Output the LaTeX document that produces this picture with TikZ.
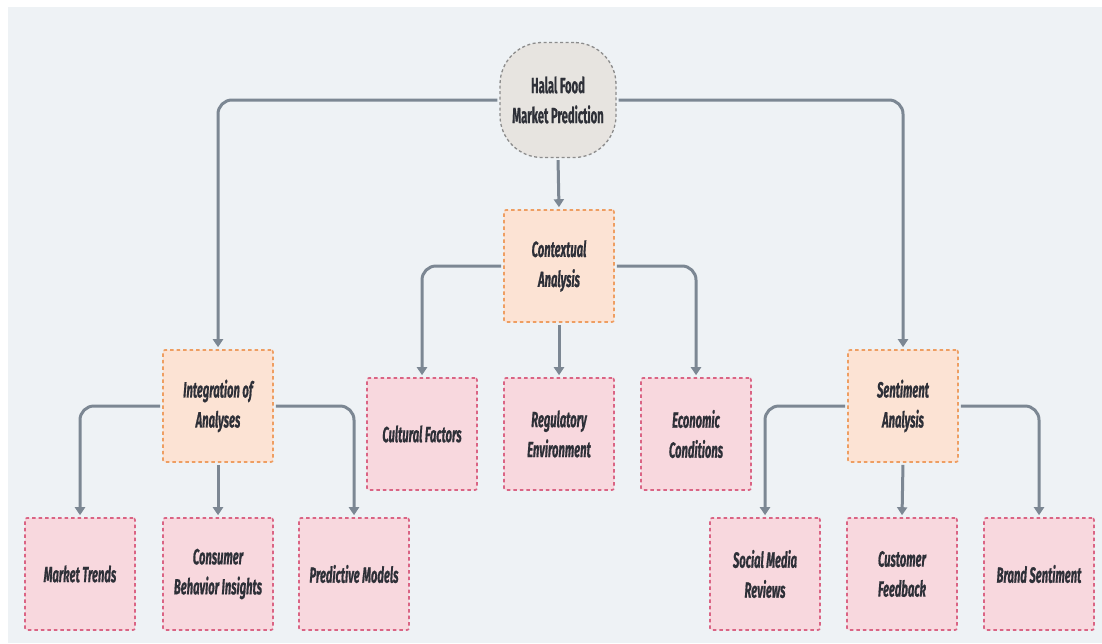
\documentclass[tikz,border=0pt]{standalone}
\usepackage{fontspec}
\setmainfont{Fira Sans}[FakeStretch=0.51]
\newfontfamily\boxfont{Fira Sans}[FakeStretch=0.51,FakeBold=0.6,UprightFont=* Bold,ItalicFont=* Bold Italic,BoldFont=* Bold,BoldItalicFont=* Bold Italic]
\usetikzlibrary{arrows.meta}
\definecolor{bgc}{HTML}{EEF2F5}
\definecolor{rootfill}{HTML}{E7E4E0}
\definecolor{rootline}{HTML}{8C8C8C}
\definecolor{midfill}{HTML}{FCE3D4}
\definecolor{midline}{HTML}{EE9E62}
\definecolor{leaffill}{HTML}{F8D8DE}
\definecolor{leafline}{HTML}{DA6484}
\definecolor{linkc}{HTML}{7C8793}
\definecolor{txt}{HTML}{2E3038}
\tikzset{
  base/.style={minimum width=110pt, minimum height=112pt, align=center,
    line width=1.6pt, dash pattern=on 3.5pt off 3pt, text=txt,
    font=\boxfont\fontsize{22}{30}\selectfont\itshape},
  rootbox/.style={base, minimum width=116pt, minimum height=115pt,
    rounded corners=42pt, fill=rootfill, draw=rootline,
    line width=1.3pt, dash pattern=on 3pt off 2.5pt,
    font=\boxfont\fontsize{22}{30}\selectfont\upshape},
  midbox/.style={base, fill=midfill, draw=midline, rounded corners=2pt},
  leafbox/.style={base, fill=leaffill, draw=leafline, rounded corners=2pt},
  link/.style={draw=linkc, line width=3pt, rounded corners=14pt,
    -{Triangle[width=10pt,length=8pt]}, shorten <=2pt, shorten >=2pt},
}
\begin{document}
\begin{tikzpicture}[x=1pt,y=-1pt]
\useasboundingbox (0,0) rectangle (1102,643);
\fill[white] (0,0) rectangle (1102,643);
\fill[bgc] (8,7) rectangle (1102,643);

\node[rootbox] (root) at (558,100) {Halal Food\\Market Prediction};

\node[midbox] (ctx) at (559,266) {Contextual\\Analysis};
\node[midbox] (integ) at (218,406) {Integration of\\Analyses};
\node[midbox] (sent) at (903,406) {Sentiment\\Analysis};

\node[leafbox] (cult) at (422,434) {Cultural Factors};
\node[leafbox] (reg) at (559,434) {Regulatory\\Environment};
\node[leafbox] (econ) at (696,434) {Economic\\Conditions};

\node[leafbox] (trend) at (80,574) {Market Trends};
\node[leafbox] (cons) at (218,574) {Consumer\\Behavior Insights};
\node[leafbox] (pred) at (354,574) {Predictive Models};
\node[leafbox] (social) at (765,574) {Social Media\\Reviews};
\node[leafbox] (cust) at (902,574) {Customer\\Feedback};
\node[leafbox] (brand) at (1039,574) {Brand Sentiment};

\draw[link] (root.west) -| (integ.north);
\draw[link] (root.east) -| (sent.north);
\draw[link] (root.south) -- (ctx.north);

\draw[link] (ctx.west) -| (cult.north);
\draw[link] (ctx.south) -- (reg.north);
\draw[link] (ctx.east) -| (econ.north);

\draw[link] (integ.west) -| (trend.north);
\draw[link] (integ.south) -- (cons.north);
\draw[link] (integ.east) -| (pred.north);

\draw[link] (sent.west) -| (social.north);
\draw[link] (sent.south) -- (cust.north);
\draw[link] (sent.east) -| (brand.north);
\end{tikzpicture}
\end{document}
